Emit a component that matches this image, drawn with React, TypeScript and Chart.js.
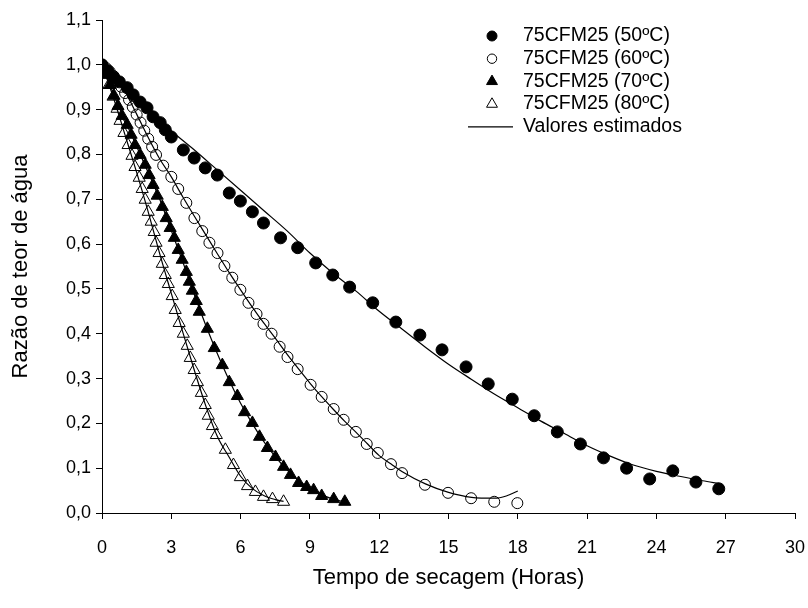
import React, { useEffect, useRef } from 'react';
import { Chart, registerables } from 'chart.js';

Chart.register(...registerables);

const FONT = '"Liberation Sans", Arial, sans-serif';

const xTicks = [0, 3, 6, 9, 12, 15, 18, 21, 24, 27, 30];
const yTicks = [0, 0.1, 0.2, 0.3, 0.4, 0.5, 0.6, 0.7, 0.8, 0.9, 1.0, 1.1];
const yTickLabels = ['0,0', '0,1', '0,2', '0,3', '0,4', '0,5', '0,6', '0,7', '0,8', '0,9', '1,0', '1,1'];
const legendLabels = ['75CFM25 (50ºC)', '75CFM25 (60ºC)', '75CFM25 (70ºC)', '75CFM25 (80ºC)', 'Valores estimados'];
const xTitle = 'Tempo de secagem (Horas)';
const yTitle = 'Razão de teor de água';

// 50 ºC observed
const t50 = [0, 0.25, 0.5, 0.75, 1.09, 1.35, 1.65, 1.95, 2.21, 2.52, 2.74, 3.0, 3.52, 3.99, 4.47, 4.99, 5.51, 5.99, 6.51, 6.99, 7.73, 8.47, 9.25, 9.99, 10.72, 11.72, 12.72, 13.76, 14.72, 15.76, 16.72, 17.76, 18.71, 19.71, 20.71, 21.71, 22.71, 23.71, 24.71, 25.71, 26.7];
const mr50 = [1.0, 0.987, 0.973, 0.962, 0.949, 0.933, 0.917, 0.904, 0.884, 0.871, 0.855, 0.839, 0.81, 0.792, 0.77, 0.754, 0.714, 0.696, 0.672, 0.647, 0.614, 0.592, 0.558, 0.531, 0.504, 0.469, 0.426, 0.397, 0.364, 0.326, 0.288, 0.254, 0.217, 0.181, 0.154, 0.123, 0.1, 0.076, 0.094, 0.069, 0.054];
// 50 ºC estimated
const tFit50 = [0, 1, 2, 3, 4, 5, 6, 7, 8, 9, 10, 11, 12, 13, 14, 15, 16, 17, 18, 19, 20, 21, 22, 23, 24, 25, 26, 26.7];
const fit50 = [1.0, 0.952, 0.903, 0.853, 0.81, 0.765, 0.72, 0.675, 0.63, 0.58, 0.535, 0.495, 0.45, 0.41, 0.37, 0.332, 0.298, 0.265, 0.235, 0.205, 0.178, 0.15, 0.127, 0.107, 0.093, 0.082, 0.072, 0.066];

// 60 ºC observed
const t60 = [0, 0.17, 0.33, 0.5, 0.67, 0.83, 1.0, 1.17, 1.33, 1.5, 1.67, 1.83, 2.0, 2.17, 2.34, 2.65, 3.0, 3.3, 3.65, 4.0, 4.34, 4.65, 5.0, 5.3, 5.64, 5.99, 6.34, 6.69, 6.99, 7.34, 7.69, 8.03, 8.47, 9.03, 9.51, 10.03, 10.46, 10.99, 11.46, 11.94, 12.51, 12.99, 13.98, 14.98, 15.98, 16.98, 17.98];
const mr60 = [1.0, 0.993, 0.985, 0.975, 0.964, 0.951, 0.937, 0.922, 0.906, 0.889, 0.871, 0.853, 0.835, 0.817, 0.799, 0.775, 0.75, 0.723, 0.692, 0.658, 0.629, 0.603, 0.58, 0.551, 0.525, 0.498, 0.469, 0.444, 0.422, 0.4, 0.371, 0.348, 0.321, 0.286, 0.259, 0.232, 0.208, 0.181, 0.154, 0.134, 0.109, 0.089, 0.063, 0.045, 0.033, 0.025, 0.022];
// 60 ºC estimated
const tFit60 = [0, 0.5, 1, 1.5, 2, 2.5, 3, 3.5, 4, 4.5, 5, 5.5, 6, 6.5, 7, 7.5, 8, 8.5, 9, 9.5, 10, 10.5, 11, 11.5, 12, 12.5, 13, 14, 15, 16, 17, 17.5, 18];
const fit60 = [1.0, 0.978, 0.94, 0.89, 0.838, 0.79, 0.75, 0.705, 0.662, 0.62, 0.578, 0.537, 0.498, 0.46, 0.424, 0.39, 0.355, 0.322, 0.29, 0.26, 0.232, 0.205, 0.18, 0.154, 0.128, 0.11, 0.092, 0.065, 0.046, 0.035, 0.033, 0.038, 0.049];

// 70 ºC observed
const t70 = [0, 0.17, 0.35, 0.52, 0.69, 0.87, 1.09, 1.26, 1.43, 1.65, 1.87, 2.04, 2.21, 2.39, 2.61, 2.78, 2.95, 3.13, 3.3, 3.47, 3.65, 3.78, 3.91, 4.08, 4.21, 4.56, 4.86, 5.21, 5.51, 5.86, 6.17, 6.51, 6.82, 7.16, 7.51, 7.86, 8.16, 8.51, 8.86, 9.16, 9.51, 10.03, 10.51];
const mr70 = [1.0, 0.978, 0.955, 0.931, 0.908, 0.886, 0.866, 0.844, 0.821, 0.799, 0.777, 0.754, 0.732, 0.708, 0.683, 0.658, 0.636, 0.614, 0.587, 0.565, 0.538, 0.516, 0.496, 0.473, 0.449, 0.411, 0.368, 0.33, 0.292, 0.261, 0.225, 0.201, 0.17, 0.145, 0.125, 0.103, 0.085, 0.067, 0.058, 0.051, 0.038, 0.031, 0.025];
// 70 ºC estimated
const tFit70 = [0, 0.5, 1, 1.5, 2, 2.5, 3, 3.5, 4, 4.5, 5, 5.5, 6, 6.5, 7, 7.5, 8, 8.5, 9, 9.5, 10, 10.5];
const fit70 = [1.0, 0.935, 0.875, 0.818, 0.76, 0.7, 0.63, 0.56, 0.487, 0.418, 0.355, 0.297, 0.245, 0.2, 0.16, 0.126, 0.097, 0.073, 0.055, 0.041, 0.031, 0.025];

// 80 ºC observed
const t80 = [0, 0.13, 0.3, 0.48, 0.65, 0.78, 0.95, 1.13, 1.3, 1.43, 1.61, 1.74, 1.87, 2.0, 2.13, 2.26, 2.34, 2.47, 2.61, 2.74, 2.87, 3.04, 3.17, 3.34, 3.52, 3.69, 3.82, 3.99, 4.13, 4.3, 4.47, 4.6, 4.78, 4.95, 5.34, 5.69, 5.99, 6.3, 6.64, 6.99, 7.38, 7.86];
const mr80 = [1.0, 0.978, 0.955, 0.929, 0.902, 0.875, 0.848, 0.821, 0.797, 0.772, 0.748, 0.723, 0.699, 0.672, 0.65, 0.627, 0.603, 0.58, 0.556, 0.531, 0.511, 0.484, 0.453, 0.424, 0.4, 0.373, 0.346, 0.319, 0.292, 0.268, 0.241, 0.217, 0.194, 0.174, 0.141, 0.107, 0.08, 0.06, 0.047, 0.036, 0.031, 0.025];
// 80 ºC estimated
const tFit80 = [0, 0.5, 1, 1.5, 2, 2.5, 3, 3.5, 4, 4.5, 5, 5.5, 6, 6.5, 7, 7.5, 7.86];
const fit80 = [1.0, 0.926, 0.843, 0.76, 0.672, 0.578, 0.49, 0.403, 0.318, 0.238, 0.17, 0.125, 0.082, 0.055, 0.039, 0.03, 0.026];

const pts = (xs: number[], ys: number[]) => xs.map((x, i) => ({ x, y: ys[i] }));

type MarkerSpec = { style: 'circle' | 'triangle'; filled: boolean; r: number };
const legendMarkers: MarkerSpec[] = [
  { style: 'circle', filled: true, r: 5 },
  { style: 'circle', filled: false, r: 4.7 },
  { style: 'triangle', filled: true, r: 6.3 },
  { style: 'triangle', filled: false, r: 6.3 },
];

const legendPlugin = {
  id: 'customLegend',
  afterDraw(chart: any) {
    const ctx = chart.ctx as CanvasRenderingContext2D;
    const area = chart.chartArea;
    const markerX = area.left + 390;
    const textX = area.left + 421;
    const rowY0 = area.top + 16;
    const rowH = 22.7;
    ctx.save();
    ctx.fillStyle = '#000';
    ctx.strokeStyle = '#000';
    ctx.font = '19.5px ' + FONT;
    ctx.textBaseline = 'middle';
    ctx.textAlign = 'left';
    legendLabels.forEach((label, i) => {
      const y = rowY0 + rowH * i;
      const m = legendMarkers[i];
      ctx.lineWidth = 1;
      if (m) {
        ctx.beginPath();
        if (m.style === 'circle') {
          ctx.arc(markerX, y, m.r, 0, Math.PI * 2);
        } else {
          const r = m.r;
          ctx.moveTo(markerX, y - r);
          ctx.lineTo(markerX + Math.sin((2 * Math.PI) / 3) * r, y + r / 2);
          ctx.lineTo(markerX - Math.sin((2 * Math.PI) / 3) * r, y + r / 2);
          ctx.closePath();
        }
        if (m.filled) ctx.fill();
        ctx.stroke();
      } else {
        ctx.lineWidth = 1.2;
        ctx.beginPath();
        ctx.moveTo(markerX - 24, y);
        ctx.lineTo(markerX + 21, y);
        ctx.stroke();
      }
      ctx.fillText(label, textX, y);
    });
    ctx.restore();
  },
};

export default function App() {
  const ref = useRef<HTMLCanvasElement | null>(null);

  useEffect(() => {
    if (!ref.current) return;
    const fitStyle = {
      showLine: true,
      borderColor: '#000',
      borderWidth: 1.2,
      pointRadius: 0,
      pointHoverRadius: 0,
      cubicInterpolationMode: 'monotone' as const,
      fill: false,
      order: 2,
    };
    const chart = new Chart(ref.current, {
      type: 'scatter',
      data: {
        datasets: [
          { label: legendLabels[0], data: pts(t50, mr50), pointStyle: 'circle', pointRadius: 6, backgroundColor: '#000', borderColor: '#000', borderWidth: 1, order: 1 },
          { label: legendLabels[1], data: pts(t60, mr60), pointStyle: 'circle', pointRadius: 5.5, backgroundColor: 'rgba(0,0,0,0)', borderColor: '#000', borderWidth: 1, order: 1 },
          { label: legendLabels[2], data: pts(t70, mr70), pointStyle: 'triangle', pointRadius: 7, backgroundColor: '#000', borderColor: '#000', borderWidth: 1, order: 1 },
          { label: legendLabels[3], data: pts(t80, mr80), pointStyle: 'triangle', pointRadius: 7, backgroundColor: 'rgba(0,0,0,0)', borderColor: '#000', borderWidth: 1, order: 1 },
          { label: legendLabels[4], data: pts(tFit50, fit50), ...fitStyle },
          { label: legendLabels[4], data: pts(tFit60, fit60), ...fitStyle },
          { label: legendLabels[4], data: pts(tFit70, fit70), ...fitStyle },
          { label: legendLabels[4], data: pts(tFit80, fit80), ...fitStyle },
        ],
      },
      options: {
        responsive: false,
        animation: false,
        events: [],
        layout: { padding: { left: 0, right: 13, top: 20, bottom: 0 } },
        plugins: {
          legend: { display: false },
          tooltip: { enabled: false },
        },
        scales: {
          x: {
            type: 'linear',
            min: 0,
            max: 30,
            afterBuildTicks: (s: any) => {
              s.ticks = xTicks.map((v) => ({ value: v }));
            },
            afterFit: (s: any) => {
              s.height = 95;
            },
            ticks: {
              color: '#000',
              font: { family: FONT, size: 18, lineHeight: 3.03 },
              padding: 2,
              maxRotation: 0,
              autoSkip: false,
              callback: (v: any) => String(v),
            },
            grid: { display: true, drawOnChartArea: false, drawTicks: true, tickLength: 6, color: '#000', lineWidth: 1 },
            border: { display: true, color: '#000', width: 1 },
            title: {
              display: true,
              text: xTitle,
              color: '#000',
              font: { family: FONT, size: 22 },
              padding: { top: 0, bottom: 17 },
            },
          },
          y: {
            type: 'linear',
            min: 0,
            max: 1.1,
            afterBuildTicks: (s: any) => {
              s.ticks = yTicks.map((v) => ({ value: v }));
            },
            afterFit: (s: any) => {
              s.width = 102;
            },
            ticks: {
              color: '#000',
              font: { family: FONT, size: 18 },
              padding: 5,
              autoSkip: false,
              callback: (_v: any, i: number) => yTickLabels[i],
            },
            grid: { display: true, drawOnChartArea: false, drawTicks: true, tickLength: 6, color: '#000', lineWidth: 1 },
            border: { display: true, color: '#000', width: 1 },
            title: {
              display: true,
              text: yTitle,
              color: '#000',
              font: { family: FONT, size: 22 },
              padding: { top: 8, bottom: 0 },
            },
          },
        },
      },
      plugins: [legendPlugin],
    });
    return () => chart.destroy();
  }, []);

  return (
    <div style={{ position: 'fixed', left: 0, top: 0, width: 808, height: 608, background: '#fff' }}>
      <canvas ref={ref} width={808} height={608} style={{ width: 808, height: 608, display: 'block' }} />
    </div>
  );
}
